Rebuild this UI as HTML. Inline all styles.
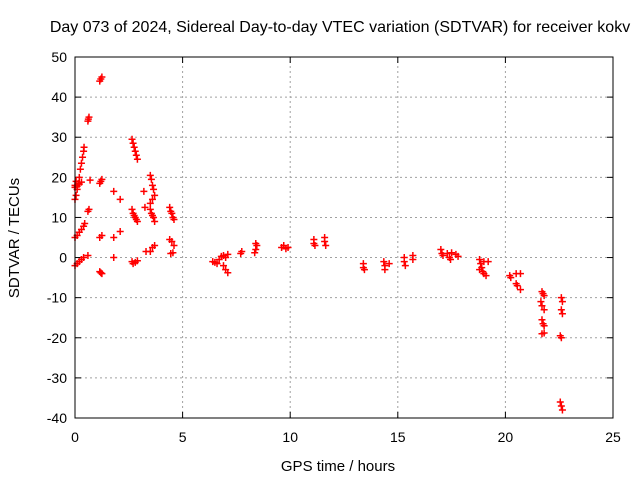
<!DOCTYPE html>
<html><head><meta charset="utf-8"><style>
html,body{margin:0;padding:0;background:#fff;}
svg{display:block;font-family:"Liberation Sans",sans-serif;}
</style></head><body>
<svg id="chart" width="640" height="480">
<text x="340" y="32" font-size="16" text-anchor="middle">Day 073 of 2024, Sidereal Day-to-day VTEC variation (SDTVAR) for receiver kokv</text>
<text x="338" y="471" font-size="15" text-anchor="middle">GPS time / hours</text>
<text transform="translate(19,238) rotate(-90)" font-size="15" text-anchor="middle">SDTVAR / TECUs</text>
<g id="grid"></g><g id="ticks"></g><g id="marks"></g>
<rect x="75" y="57" width="538" height="361" fill="none" stroke="#000" stroke-width="1"/>
</svg>
<script>
const xTicks=[0,5,10,15,20,25];
const yTicks=[-40,-30,-20,-10,0,10,20,30,40,50];
const xs=[0.0,0.05,0.1,0.15,0.2,0.25,0.3,0.35,0.4,0.42,
0.0,0.1,0.2,0.3,0.4,0.45,
0.0,0.1,0.2,0.3,0.4,
0.0,0.1,0.2,0.3,0.05,0.0,
0.6,0.65,0.62,0.6,0.65,0.7,0.6,
1.15,1.25,1.2,1.15,1.25,1.2,1.15,1.25,1.15,1.25,1.2,
1.8,1.8,1.8,2.1,2.1,
2.65,2.7,2.75,2.8,2.85,2.9,2.65,2.7,2.75,2.8,2.85,2.9,2.65,2.7,2.8,2.9,
3.2,3.25,3.3,
3.5,3.55,3.6,3.65,3.7,3.5,3.6,3.5,3.55,3.6,3.65,3.7,3.5,3.6,3.7,
4.4,4.45,4.5,4.55,4.6,4.4,4.5,4.6,4.45,4.55,
6.4,6.5,6.6,6.7,6.8,6.9,7.0,7.1,6.9,7.0,7.1,
7.7,7.75,8.35,8.4,8.45,8.4,
9.6,9.7,9.8,9.9,
11.1,11.1,11.15,11.6,11.6,11.65,
13.4,13.4,13.45,
14.35,14.4,14.4,14.6,
15.3,15.3,15.35,15.7,15.7,
17.0,17.05,17.1,17.3,17.4,17.45,17.5,17.7,17.8,
18.8,18.85,18.9,18.95,19.0,19.1,19.2,18.8,19.0,
20.2,20.25,20.5,20.5,20.55,20.7,20.7,
21.7,21.75,21.8,21.65,21.7,21.8,21.7,21.75,21.8,21.7,21.8,
22.6,22.65,22.6,22.65,22.55,22.6,22.55,22.6,22.65];
const ys=[14.5,15.5,17,18.5,20,22,23.5,25,26.5,27.5,
5,5.5,6.3,7,7.8,8.5,
-2,-1.5,-1,-0.5,0,
17.5,17.8,18.3,18.8,19,18,
34,35,34.5,11.5,12,19.3,0.5,
44,45,44.5,18.5,19.5,19,5,5.5,-3.5,-4,-3.8,
16.5,5,0,14.5,6.5,
29.5,28.5,27.5,26.5,25.5,24.5,12,11,10.5,10,9.5,9,-1,-1.5,-1.2,-0.8,
16.5,12.5,1.5,
20.5,19.5,18,17,15.5,13.5,14.5,12,11,10.5,10,9,1.5,2.5,3,
12.5,11.5,11,10,9.5,4.5,4,3,1,1.2,
-1,-1.2,-1.5,-0.5,0.3,-2,-3,-3.8,0.5,0,0.8,
1,1.5,1.2,2,3,3.5,
2.5,3,2.2,2.5,
3.5,4.5,3,5,4,3,
-1.5,-2.5,-3,
-1,-2,-3,-1.5,
0,-1,-2,0.5,-0.5,
2,1,0.5,1,0,-0.5,1.2,0.8,0.3,
-0.5,-1.5,-2.5,-3.5,-4,-4.5,-1,-3,-1,
-4.5,-5,-4,-6.5,-7,-4,-8,
-8.5,-9,-9.5,-11,-12,-13,-15.5,-16.5,-17,-19,-18.8,
-10,-11,-13,-14,-19.5,-20,-36,-37,-38];
const X0=75,X1=613,Y0=418,Y1=57;
function sx(v){return X0+(v-0)/(25-0)*(X1-X0);}
function sy(v){return Y0-(v-(-40))/(50-(-40))*(Y0-Y1);}
const NS="http://www.w3.org/2000/svg";
function mk(tag,attrs,parent){const e=document.createElementNS(NS,tag);for(const k in attrs)e.setAttribute(k,attrs[k]);parent.appendChild(e);return e;}
const grid=document.getElementById('grid'),ticks=document.getElementById('ticks'),marks=document.getElementById('marks');
xTicks.forEach(t=>{const x=sx(t);
 if(t>0&&t<25){const g=mk('line',{x1:x,x2:x,y1:Y0,y2:Y1,stroke:'#a0a0a0','stroke-dasharray':'2,3','stroke-width':1},grid);
 
 }
 mk('line',{x1:x,x2:x,y1:Y0,y2:Y0-6,stroke:'#000'},ticks);
 mk('line',{x1:x,x2:x,y1:Y1,y2:Y1+6,stroke:'#000'},ticks);
 const l=mk('text',{x:x,y:Y0+24,'font-size':14,'text-anchor':'middle'},ticks);l.textContent=t;
 
 });
yTicks.forEach(t=>{const y=sy(t);
 if(t>-40&&t<50){const g=mk('line',{x1:X0,x2:X1,y1:y,y2:y,stroke:'#a0a0a0','stroke-dasharray':'2,3','stroke-width':1},grid);
 
 }
 mk('line',{x1:X0,x2:X0+6,y1:y,y2:y,stroke:'#000'},ticks);
 mk('line',{x1:X1,x2:X1-6,y1:y,y2:y,stroke:'#000'},ticks);
 const l=mk('text',{x:X0-8,y:y+5,'font-size':14,'text-anchor':'end'},ticks);l.textContent=t;
 
 });
for(let i=0;i<xs.length;i++){const x=sx(xs[i]),y=sy(ys[i]);
 const p=mk('path',{d:`M${x-3.5},${y}H${x+3.5}M${x},${y-3.5}V${y+3.5}`,stroke:'#f00','stroke-width':1.5,fill:'none'},marks);
 
 }
</script>
</body></html>
